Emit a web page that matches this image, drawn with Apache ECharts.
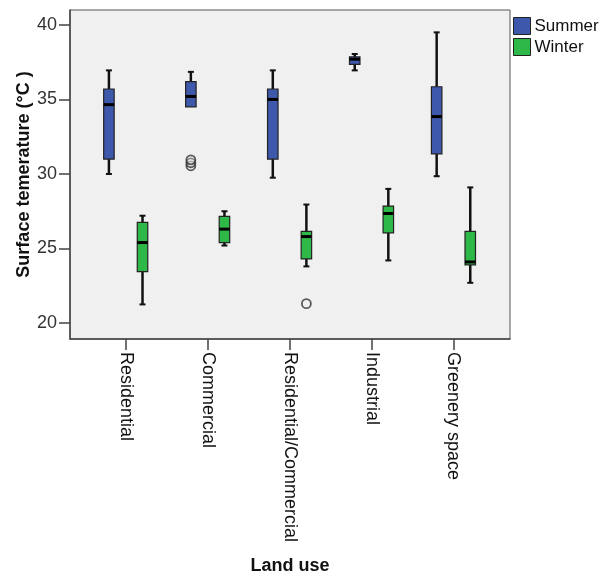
<!DOCTYPE html>
<html>
<head>
<meta charset="utf-8">
<script src="https://cdn.jsdelivr.net/npm/echarts@6/dist/echarts.min.js"></script>
<style>
  html, body { margin: 0; padding: 0; background: #ffffff; }
  #chart { width: 613px; height: 582px; }
</style>
</head>
<body>
<div id="chart"></div>
<script>
// Land-use categories along the x axis
const categories = ['Residential', 'Commercial', 'Residential/Commercial', 'Industrial', 'Greenery space'];

// Box statistics per category: [min, Q1, median, Q3, max]
const summerBox = [
  [30.0, 31.0, 34.65, 35.7, 36.95],
  [34.5, 34.5, 35.2, 36.2, 36.85],
  [29.75, 31.0, 35.0, 35.7, 36.95],
  [36.95, 37.35, 37.7, 37.85, 38.05],
  [29.85, 31.35, 33.85, 35.85, 39.5]
];
const winterBox = [
  [21.25, 23.45, 25.4, 26.75, 27.2],
  [25.2, 25.4, 26.3, 27.15, 27.5],
  [23.8, 24.3, 25.8, 26.15, 27.95],
  [24.2, 26.05, 27.35, 27.85, 29.0],
  [22.7, 23.9, 24.1, 26.15, 29.1]
];

// Outliers: [category index, value]
const summerOutliers = [[1, 30.55], [1, 30.75], [1, 30.95]];
const winterOutliers = [[2, 21.3]];

// Y axis tick labels
const yTicks = [20, 25, 30, 35, 40];

const seriesNames = ['Summer', 'Winter'];
const seriesColors = ['#3E58AC', '#2EB848'];
const groupOffset = 0.205;   // horizontal shift of each season inside a category
const boxHalf = 0.064;       // half box width in category units
const capHalf = 3;           // whisker cap half width (px)

const FONT = '"Liberation Sans", Arial, sans-serif';

function boxRenderer(offset, color) {
  return function (params, api) {
    const x = api.value(0) + offset;
    const mn = api.coord([x, api.value(1)]);
    const q1 = api.coord([x, api.value(2)]);
    const md = api.coord([x, api.value(3)]);
    const q3 = api.coord([x, api.value(4)]);
    const mx = api.coord([x, api.value(5)]);
    const left = api.coord([x - boxHalf, 0])[0];
    const right = api.coord([x + boxHalf, 0])[0];
    const cx = mn[0];
    const lineStyle = { stroke: '#111', lineWidth: 2.5 };
    const children = [];
    if (mx[1] < q3[1]) {
      children.push({ type: 'line', shape: { x1: cx, y1: mx[1], x2: cx, y2: q3[1] }, style: lineStyle });
      children.push({ type: 'line', shape: { x1: cx - capHalf, y1: mx[1], x2: cx + capHalf, y2: mx[1] }, style: { stroke: '#111', lineWidth: 2 } });
    }
    if (mn[1] > q1[1]) {
      children.push({ type: 'line', shape: { x1: cx, y1: q1[1], x2: cx, y2: mn[1] }, style: lineStyle });
      children.push({ type: 'line', shape: { x1: cx - capHalf, y1: mn[1], x2: cx + capHalf, y2: mn[1] }, style: { stroke: '#111', lineWidth: 2 } });
    }
    children.push({
      type: 'rect',
      shape: { x: left, y: q3[1], width: right - left, height: q1[1] - q3[1] },
      style: { fill: color, stroke: '#222', lineWidth: 1.2 }
    });
    children.push({ type: 'line', shape: { x1: left, y1: md[1], x2: right, y2: md[1] }, style: { stroke: '#000', lineWidth: 3 } });
    return { type: 'group', children: children };
  };
}

function boxData(boxes) {
  return boxes.map(function (b, i) { return [i].concat(b); });
}
function outlierData(points, offset) {
  return points.map(function (p) { return [p[0] + offset, p[1]]; });
}

const chart = echarts.init(document.getElementById('chart'), null, { renderer: 'canvas' });

chart.setOption({
  animation: false,
  backgroundColor: '#ffffff',
  textStyle: { fontFamily: FONT },
  legend: {
    orient: 'vertical',
    left: 508,
    top: 12,
    itemWidth: 17,
    itemHeight: 17,
    itemGap: 3,
    icon: 'rect',
    selectedMode: false,
    data: seriesNames,
    itemStyle: { borderColor: '#222', borderWidth: 1 },
    textStyle: { fontFamily: FONT, fontSize: 17, color: '#111', padding: [0, 0, 0, -1] }
  },
  grid: {
    left: 70, top: 10, right: 103, bottom: 243,
    show: true,
    backgroundColor: '#f0f0f0',
    borderColor: '#555',
    borderWidth: 1
  },
  xAxis: {
    type: 'value',
    min: -0.68,
    max: 4.69,
    name: 'Land use',
    nameLocation: 'middle',
    nameGap: 218,
    nameMoveOverlap: false,
    nameTextStyle: { fontFamily: FONT, fontSize: 18, fontWeight: 'bold', color: '#111' },
    splitLine: { show: false },
    axisLine: { show: true, onZero: false, lineStyle: { color: '#444', width: 1.5 } },
    axisTick: { show: true, inside: false, length: 11, customValues: [0, 1, 2, 3, 4], lineStyle: { color: '#444', width: 1.5 } },
    axisLabel: {
      customValues: [0, 1, 2, 3, 4],
      rotate: -90,
      margin: 13,
      fontFamily: FONT,
      fontSize: 18,
      color: '#111',
      formatter: function (v) { return categories[Math.round(v)]; }
    }
  },
  yAxis: {
    type: 'value',
    min: 18.93,
    max: 41.0,
    name: 'Surface temerature (°C )',
    nameLocation: 'middle',
    nameGap: 37,
    nameMoveOverlap: false,
    nameTextStyle: { fontFamily: FONT, fontSize: 18, fontWeight: 'bold', color: '#111' },
    splitLine: { show: false },
    axisLine: { show: true, onZero: false, lineStyle: { color: '#444', width: 1.5 } },
    axisTick: { show: true, inside: false, length: 11, customValues: yTicks, lineStyle: { color: '#444', width: 1.5 } },
    axisLabel: {
      customValues: yTicks,
      margin: 13,
      fontFamily: FONT,
      fontSize: 18,
      color: '#333'
    }
  },
  series: [
    {
      name: seriesNames[0],
      type: 'custom',
      itemStyle: { color: seriesColors[0] },
      renderItem: boxRenderer(-groupOffset, seriesColors[0]),
      encode: { x: 0, y: [1, 2, 3, 4, 5] },
      data: boxData(summerBox),
      z: 3
    },
    {
      name: seriesNames[1],
      type: 'custom',
      itemStyle: { color: seriesColors[1] },
      renderItem: boxRenderer(groupOffset, seriesColors[1]),
      encode: { x: 0, y: [1, 2, 3, 4, 5] },
      data: boxData(winterBox),
      z: 3
    },
    {
      name: 'Summer outliers',
      type: 'scatter',
      symbol: 'circle',
      symbolSize: 9,
      itemStyle: { color: 'rgba(240,240,240,0.4)', borderColor: '#333', borderWidth: 1.8 },
      data: outlierData(summerOutliers, -groupOffset),
      z: 4
    },
    {
      name: 'Winter outliers',
      type: 'scatter',
      symbol: 'circle',
      symbolSize: 9,
      itemStyle: { color: '#f0f0f0', borderColor: '#333', borderWidth: 1.8 },
      data: outlierData(winterOutliers, groupOffset),
      z: 4
    }
  ]
});
</script>
</body>
</html>
